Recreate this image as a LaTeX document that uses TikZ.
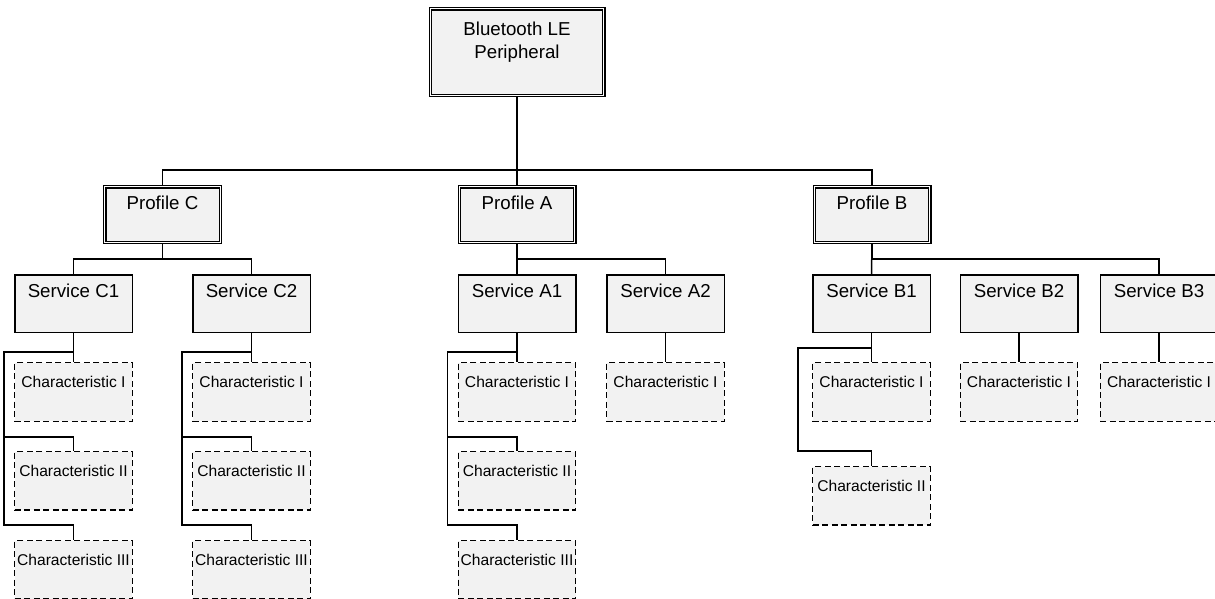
\documentclass[tikz,border=0pt]{standalone}
\usepackage{fontspec}
\setmainfont{Liberation Sans}
\usepackage{xcolor}
\usepackage{tikz}
\usetikzlibrary{positioning}

\definecolor{boxgray}{RGB}{242,242,242}

\begin{document}
\begin{tikzpicture}[
    x=1pt, y=-1pt,
    node distance=29pt,
    dbl/.style={draw, fill=boxgray, line width=1.1pt, double, double distance=1.3pt, outer sep=1.75pt, inner ysep=0pt, align=center, font=\fontsize{18.7}{23.4}\selectfont},
    profile/.style={dbl, minimum width=115.5pt, text height=22.65pt, text depth=32.85pt},
    svc/.style={draw, fill=boxgray, line width=1.5pt, minimum width=117.5pt, inner ysep=0pt, text height=22.65pt, text depth=34.85pt, font=\fontsize{18.7}{23.4}\selectfont},
    chr/.style={draw, fill=boxgray, line width=1.4pt, dash pattern=on 6pt off 3.5pt, minimum width=117.5pt, inner xsep=1pt, inner ysep=0pt, text height=25.25pt, text depth=33.25pt, font=\fontsize{15.6}{19}\selectfont},
    link/.style={line width=1.5pt}
]
    \useasboundingbox (0,0) rectangle (1215,598);

    % Peripheral
    \node[dbl, minimum width=173.5pt, text height=49.65pt, text depth=36.85pt] (root) at (517,52) {Bluetooth LE\\Peripheral};

    % Profiles
    \node[profile] (profC) at (162.5,214.5) {Profile C};
    \node[profile] (profA) at (517,214.5) {Profile A};
    \node[profile] (profB) at (872,214.5) {Profile B};

    % Services
    \node[svc] (sC1) at (73.5,303.5) {Service C1};
    \node[svc] (sC2) at (251.5,303.5) {Service C2};
    \node[svc] (sA1) at (517,303.5) {Service A1};
    \node[svc] (sA2) at (665.5,303.5) {Service A2};
    \node[svc] (sB1) at (871.5,303.5) {Service B1};
    \node[svc] (sB2) at (1019,303.5) {Service B2};
    \node[svc] (sB3) at (1159,303.5) {Service B3};

    % Characteristics
    \node[chr, below=of sC1] (cC1a) {Characteristic I};
    \node[chr, below=of cC1a] (cC1b) {Characteristic II};
    \node[chr, below=of cC1b] (cC1c) {Characteristic III};
    \node[chr, below=of sC2] (cC2a) {Characteristic I};
    \node[chr, below=of cC2a] (cC2b) {Characteristic II};
    \node[chr, below=of cC2b] (cC2c) {Characteristic III};
    \node[chr, below=of sA1] (cA1a) {Characteristic I};
    \node[chr, below=of cA1a] (cA1b) {Characteristic II};
    \node[chr, below=of cA1b] (cA1c) {Characteristic III};
    \node[chr, below=of sA2] (cA2a) {Characteristic I};
    \node[chr, below=of sB1] (cB1a) {Characteristic I};
    \node[chr, below=44pt of cB1a] (cB1b) {Characteristic II};
    \node[chr, below=of sB2] (cB2a) {Characteristic I};
    \node[chr, below=of sB3] (cB3a) {Characteristic I};

    % Connections
    \draw[link] (root.south) -- (profA.north);
    \draw[link] (profC.north) -- ++(0,-15) -| (profB.north);

    \draw[link] (profC.south) -- ++(0,15) -| (sC1.north);
    \draw[link] (profC.south) -- ++(0,15) -| (sC2.north);
    \draw[link] (profA.south) -- ++(0,15) -| (sA2.north);
    \draw[link] (profA.south) -- (sA1.north);
    \draw[link] (profB.south) -- ++(0,15) -| (sB3.north);
    \draw[link] (profB.south) -- (sB1.north);

    \draw[link] (sC1.south) -- (cC1a.north);
    \draw[link] (sC1.south) ++(0,19) -| ([xshift=-10pt]cC1a.west) |- ([yshift=14pt]cC1b.north) -- (cC1b.north);
    \draw[link] ([xshift=-10pt]cC1a.west) |- ([yshift=15pt]cC1c.north) -- (cC1c.north);

    \draw[link] (sC2.south) -- (cC2a.north);
    \draw[link] (sC2.south) ++(0,19) -| ([xshift=-10pt]cC2a.west) |- ([yshift=14pt]cC2b.north) -- (cC2b.north);
    \draw[link] ([xshift=-10pt]cC2a.west) |- ([yshift=15pt]cC2c.north) -- (cC2c.north);

    \draw[link] (sA1.south) -- (cA1a.north);
    \draw[link] (sA1.south) ++(0,19) -| ([xshift=-10pt]cA1a.west) |- ([yshift=14pt]cA1b.north) -- (cA1b.north);
    \draw[link] ([xshift=-10pt]cA1a.west) |- ([yshift=15pt]cA1c.north) -- (cA1c.north);

    \draw[link] (sB1.south) -- (cB1a.north);
    \draw[link] (sB1.south) ++(0,15) -| ([xshift=-14pt]cB1a.west) |- ([yshift=15pt]cB1b.north) -- (cB1b.north);

    \draw[link] (sA2.south) -- (cA2a.north);
    \draw[link] (sB2.south) -- (cB2a.north);
    \draw[link] (sB3.south) -- (cB3a.north);
\end{tikzpicture}
\end{document}
